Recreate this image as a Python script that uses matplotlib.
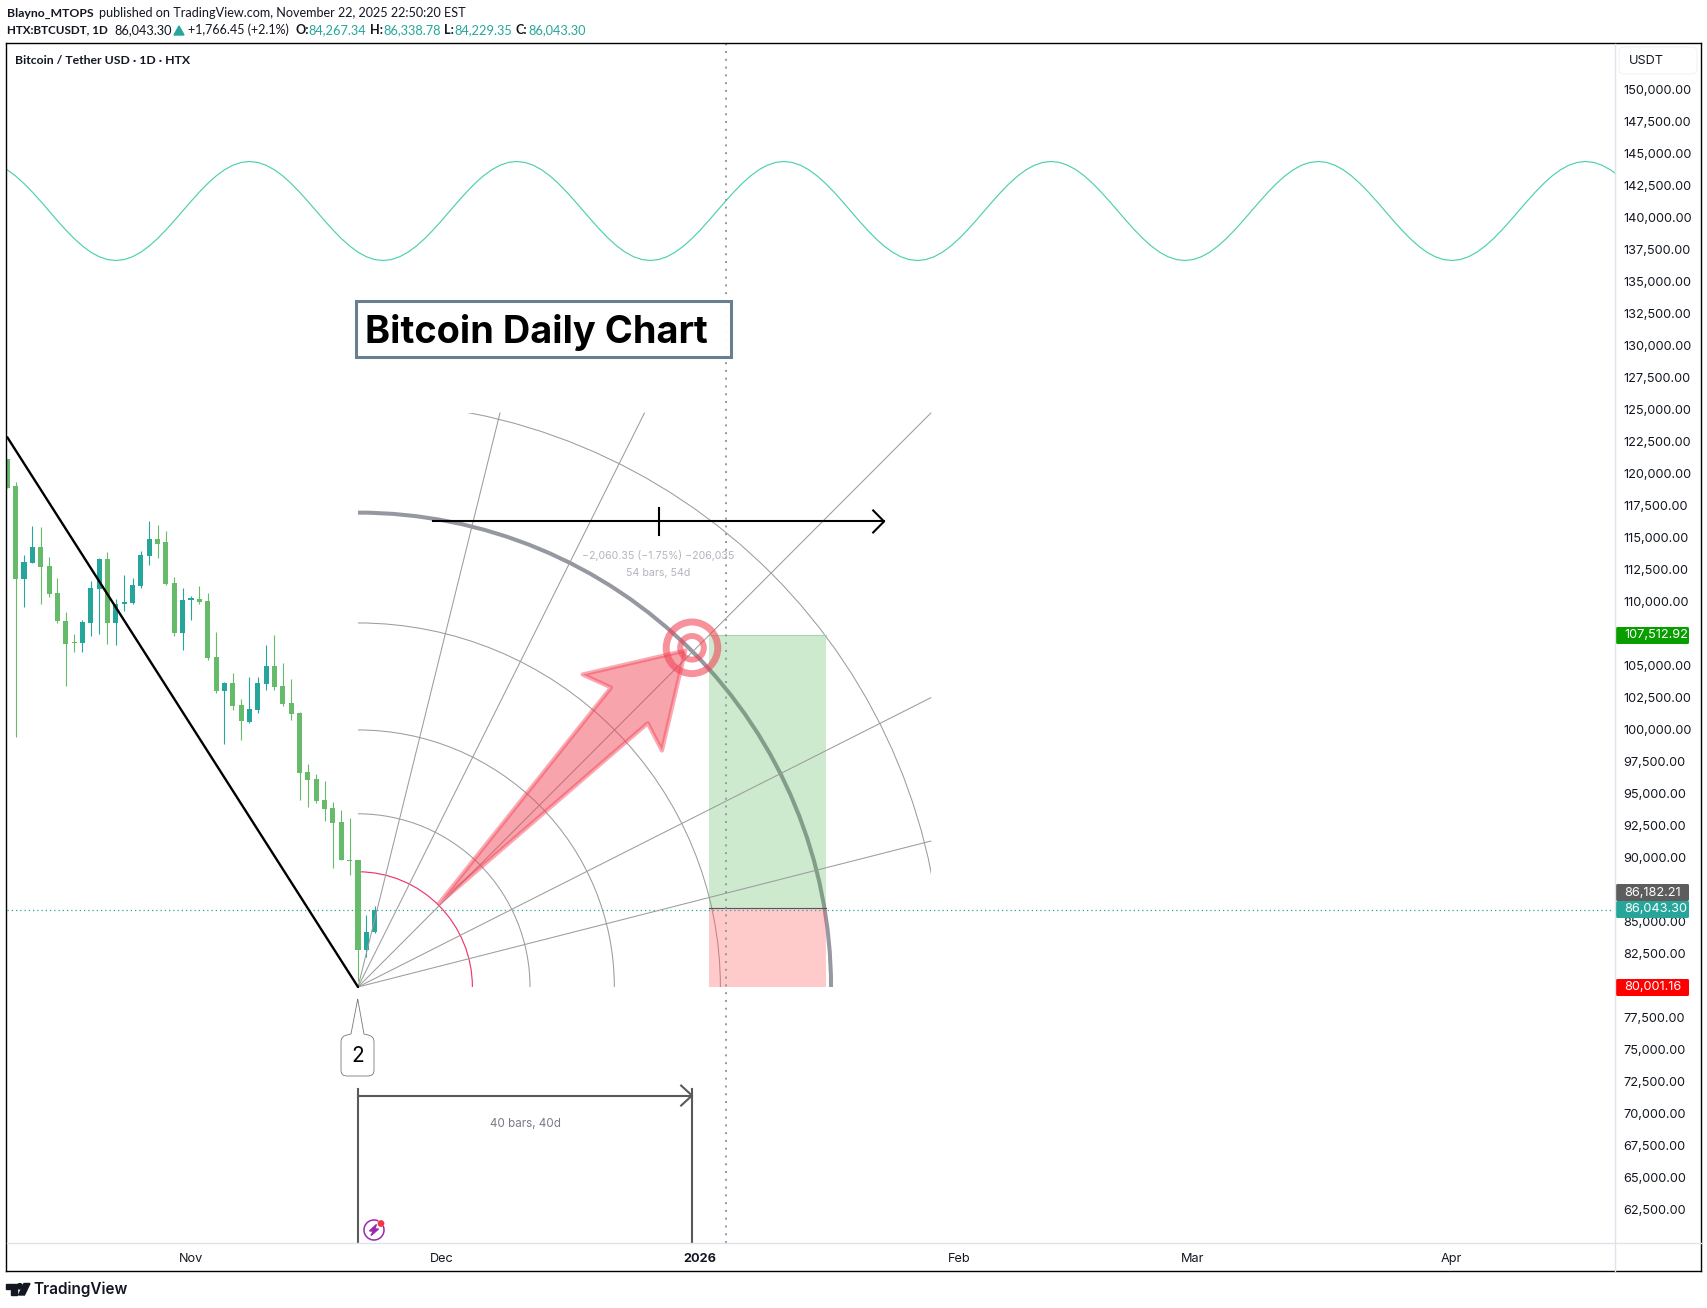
import matplotlib
matplotlib.use("Agg")
import matplotlib.pyplot as plt
from matplotlib.patches import Arc, Rectangle, Polygon, Ellipse, PathPatch, FancyBboxPatch
from matplotlib.path import Path
from matplotlib.lines import Line2D
from matplotlib.transforms import IdentityTransform, ScaledTranslation

W, H = 1708, 1308
UI = "Inter"
HEAD = "Lato"

# ---------- data ----------
bars = list(range(-42, 3))
opens = [121230,119120,111840,113140,114410,112910,110800,108630,106980,106900,108460,111120,113460,108400,109900,110020,111350,113690,115020,114730,111580,107680,110220,110340,110190,105800,103140,103780,102070,100740,101670,103690,105100,103540,102210,101430,96810,96260,94640,94010,92910,89960,89960,82910,84267]
highs = [121230,119470,113780,116030,115970,113600,111980,109320,107590,108690,111750,113540,114010,110310,112210,111980,114090,116430,116120,115650,112070,111200,110570,111290,110800,107760,103860,104560,102530,104180,104180,106750,107530,105340,104090,101520,97450,96670,96120,94470,93860,93230,89960,85660,86339]
lows = [119010,99560,109670,113140,109960,110450,108430,103540,106150,106200,107450,107560,106810,106750,109410,109900,111200,112940,113540,111430,107390,106350,108690,109960,105570,103000,99010,101670,99330,100600,101440,103230,103230,101980,100890,94640,94090,94410,93000,89330,89960,88720,80480,82360,84229]
closes = [119010,111840,113230,114410,112850,110740,108570,106810,106840,108540,111200,113460,108400,109960,110100,111430,113780,115020,114640,111520,107680,110250,110370,110100,105740,103140,103780,101980,100800,101750,103780,105100,103460,102130,101350,96750,96200,94560,93920,92850,89960,89880,82910,84330,86043]

sine_bars = list(range(-45, 152))
sine_prices = [
    144492,144418,144198,143840,143359,142773,142105,141379,140625,139871,139145,138477,137891,137410,137052,136832,136758,136832,137052,137410,137891,138477,139145,139871,140625,141379,142105,142773,143359,143840,144198,144418,
    144492,144418,144198,143840,143359,142773,142105,141379,140625,139871,139145,138477,137891,137410,137052,136832,136758,136832,137052,137410,137891,138477,139145,139871,140625,141379,142105,142773,143359,143840,144198,144418,
    144492,144418,144198,143840,143359,142773,142105,141379,140625,139871,139145,138477,137891,137410,137052,136832,136758,136832,137052,137410,137891,138477,139145,139871,140625,141379,142105,142773,143359,143840,144198,144418,
    144492,144418,144198,143840,143359,142773,142105,141379,140625,139871,139145,138477,137891,137410,137052,136832,136758,136832,137052,137410,137891,138477,139145,139871,140625,141379,142105,142773,143359,143840,144198,144418,
    144492,144418,144198,143840,143359,142773,142105,141379,140625,139871,139145,138477,137891,137410,137052,136832,136758,136832,137052,137410,137891,138477,139145,139871,140625,141379,142105,142773,143359,143840,144198,144418,
    144492,144418,144198,143840,143359,142773,142105,141379,140625,139871,139145,138477,137891,137410,137052,136832,136758,136832,137052,137410,137891,138477,139145,139871,140625,141379,142105,142773,143359,143840,144198,144418,
    144492,144418,144198,143840,143359,
]

anchor_bar, anchor_price = 0, 80001.16
last_close = 86043.30
entry_price = 86182.21
target_price = 107512.92
stop_price = 80001.16
position_bars = [42, 56]
crosshair_bar = 44.05
trend_start = (-42, 122950)
arc_radii_bars = [13.7, 20.6, 30.7, 43.4, 56.65]
arc_radii_prices = [9000, 13530, 20080, 28440, 37060]
outer_radius = (70.0, 45700)
box_size = (68.6, 44840)
ray_ends_bar = [17.0, 34.3, 68.6, 68.6, 68.6]
ray_ends_price = [124840, 124840, 124840, 102600, 91400]
ruler_bars = [9, 63]
ruler_price = 116370
range_bars = [0, 40]
range_price = 71520
arrow_bars = [9.7, 30.3, 26.9, 39.2, 36.4, 34.7]
arrow_prices = [86523, 103398, 104414, 106289, 98477, 100609]
target_center = (40, 106500)

y_ticks = [p for p in range(62500, 152500, 2500) if p not in (80000, 87500, 107500)]
x_tick_bars = [-20, 10, 41, 72, 100, 131]
x_tick_labels = ["Nov", "Dec", "2026", "Feb", "Mar", "Apr"]

UP, DOWN = "#26a69a", "#66bb6a"
THIN = "#9c9c9c"

# ---------- figure ----------
fig = plt.figure(figsize=(W / 100, H / 100), dpi=100, facecolor="white")
def fx(x): return x / W
def fy(y): return 1 - y / H
L, R, T, B = 7, 1615, 44, 1243
ax = fig.add_axes([fx(L), fy(B), (R - L) / W, (B - T) / H])
bar_px = 8.35
price_px = 0.0128
ax.set_xlim((L - 358) / bar_px, (R - 358) / bar_px)
ax.set_ylim(150000 - (B - 91.0) / price_px, 150000 - (T - 91.0) / price_px)

for s in ax.spines.values():
    s.set_visible(False)
ax.yaxis.tick_right()
ax.set_yticks(y_ticks)
ax.set_yticklabels([f"{p:,.2f}" for p in y_ticks], family=UI, fontsize=9.15, color="#131722")
ax.tick_params(axis="y", length=0, pad=5.7)
up_px = ScaledTranslation(0, 1.5 / 100, fig.dpi_scale_trans)
for t in ax.get_yticklabels():
    t.set_transform(t.get_transform() + up_px)
ax.set_xticks(x_tick_bars)
ax.set_xticklabels(x_tick_labels, family=UI, fontsize=9.15, color="#131722")
ax.tick_params(axis="x", length=0, pad=7.0)
for t, s in zip(ax.get_xticklabels(), x_tick_labels):
    if s == "2026":
        t.set_fontweight("bold")

for coords in [((6.5, 1701.5), (43, 43)), ((6.5, 1701.5), (1271, 1271)),
               ((6.5, 6.5), (43, 1271)), ((1701.5, 1701.5), (43, 1271))]:
    fig.add_artist(Line2D([fx(c) for c in coords[0]], [fy(c) for c in coords[1]], color="#000000", lw=1.0))
fig.add_artist(Line2D([fx(L), fx(1701)], [fy(1243.3)] * 2, color="#e0e3eb", lw=1.0))
fig.add_artist(Line2D([fx(1615.5)] * 2, [fy(44), fy(1271)], color="#e0e3eb", lw=1.0))

# candles
for b, o, h, l, c in zip(bars, opens, highs, lows, closes):
    col = UP if c >= o else DOWN
    ax.plot([b, b], [l, h], color=col, lw=0.8, zorder=3, solid_capstyle="butt")
    ax.add_patch(Rectangle((b - 0.3, min(o, c)), 0.6, max(abs(c - o), 60), color=col, lw=0, zorder=3))

# sine
ax.plot(sine_bars, sine_prices, color="#4dd0b0", lw=0.85, zorder=2)

# arcs
arc_cols = ["#f23668", THIN, THIN, THIN, "#9598a1"]
arc_lws = [0.85, 0.75, 0.75, 0.75, 2.9]
for rb, rp, col, lw in zip(arc_radii_bars, arc_radii_prices, arc_cols, arc_lws):
    ax.add_patch(Arc((anchor_bar, anchor_price), 2 * rb, 2 * rp, theta1=0, theta2=90,
                     color=col, lw=lw, zorder=1.5))
outer = Arc((anchor_bar, anchor_price), 2 * outer_radius[0], 2 * outer_radius[1], theta1=0, theta2=90,
            color=THIN, lw=0.75, zorder=1.5)
ax.add_patch(outer)
outer.set_clip_path(Rectangle((anchor_bar, anchor_price), box_size[0], box_size[1], transform=ax.transData))
for rb, rp in zip(ray_ends_bar, ray_ends_price):
    ax.plot([anchor_bar, rb], [anchor_price, rp], color=THIN, lw=0.75, zorder=3.5)

# position tool
ax.add_patch(Rectangle((position_bars[0], entry_price), position_bars[1] - position_bars[0],
                       target_price - entry_price, facecolor=(0.30, 0.69, 0.31, 0.28),
                       edgecolor="none", zorder=2))
ax.plot(position_bars, [target_price] * 2, color="#a5d6a7", lw=0.8, zorder=2)
ax.add_patch(Rectangle((position_bars[0], stop_price), position_bars[1] - position_bars[0],
                       entry_price - stop_price, facecolor=(1.0, 0.32, 0.32, 0.30),
                       edgecolor="none", zorder=2))
ax.plot(position_bars, [entry_price] * 2, color="#555555", lw=0.8, zorder=2.1)

# dotted guide lines
ax.axvline(crosshair_bar, color="#9598a1", lw=1.4, ls=(0, (1, 3)), zorder=2.5)
ax.plot([ax.get_xlim()[0], ax.get_xlim()[1] - 0.5], [last_close] * 2, color=UP, lw=0.9, ls=(0, (1, 2.4)), zorder=2.5)

# trend line
ax.plot([trend_start[0], anchor_bar], [trend_start[1], anchor_price], color="black", lw=1.7, zorder=4,
        solid_capstyle="round")

# ruler
ax.plot(ruler_bars, [ruler_price] * 2, color="black", lw=1.5, zorder=5)
mid = sum(ruler_bars) / 2
ax.plot([mid, mid], [ruler_price - 1040, ruler_price + 1040], color="black", lw=1.5, zorder=5)
ax.plot([ruler_bars[1] - 1.3, ruler_bars[1], ruler_bars[1] - 1.3],
        [ruler_price + 860, ruler_price, ruler_price - 860], color="black", lw=1.5, zorder=5)
ax.text(mid, ruler_price - 2620, "\u22122,060.35 (\u22121.75%) \u2212206,035", family=UI, fontsize=7.6,
        color="#b2b5be", ha="center", va="center", zorder=5)
ax.text(mid, ruler_price - 4030, "54 bars, 54d", family=UI, fontsize=7.6, color="#b2b5be",
        ha="center", va="center", zorder=5)

# date range
RC = "#5a5a5a"
ax.plot(range_bars, [range_price] * 2, color=RC, lw=1.5, zorder=5)
for b in range_bars:
    ax.plot([b, b], [ax.get_ylim()[0], range_price + 480], color=RC, lw=1.5, zorder=5)
ax.plot([range_bars[1] - 1.3, range_bars[1], range_bars[1] - 1.3],
        [range_price + 780, range_price, range_price - 780], color=RC, lw=1.5, zorder=5)
ax.text(sum(range_bars) / 2, range_price - 2230, "40 bars, 40d", family=UI, fontsize=8.4, color="#787b86",
        ha="center", va="center", zorder=5)

# big arrow
ax.add_patch(Polygon(list(zip(arrow_bars, arrow_prices)), closed=True,
                     facecolor=(0.95, 0.26, 0.33, 0.48), edgecolor=(0.96, 0.26, 0.33, 0.45),
                     lw=3.0, joinstyle="round", zorder=4.5))
for rpx, lw in [(25.8, 5.0), (11.8, 4.3)]:
    ax.add_patch(Ellipse(target_center, 2 * rpx / bar_px, 2 * rpx / price_px, fill=False,
                         edgecolor=(0.95, 0.26, 0.33, 0.58), lw=lw, zorder=4.6))

# title box
ax.add_patch(Rectangle((-0.2, 129240), 44.85, 4390, facecolor=(1, 1, 1, 0.95), edgecolor="#687f91", lw=2.2,
                       zorder=5.5))
ax.text(21.35, 131130, "Bitcoin Daily Chart", family=UI, fontweight="bold", fontsize=27.3, color="black",
        ha="center", va="center", zorder=6)

# callout (figure pixels)
P = [(357.7, 999), (364, 1034), (368, 1035), (374, 1036), (374, 1042), (374, 1070), (374, 1076), (368, 1076),
     (347, 1076), (341, 1076), (341, 1070), (341, 1042), (341, 1036), (347, 1035), (351, 1034), (357.7, 999)]
C = [Path.MOVETO, Path.LINETO, Path.LINETO, Path.CURVE3, Path.CURVE3, Path.LINETO, Path.CURVE3, Path.CURVE3,
     Path.LINETO, Path.CURVE3, Path.CURVE3, Path.LINETO, Path.CURVE3, Path.CURVE3, Path.LINETO, Path.LINETO]
fig.add_artist(PathPatch(Path([(fx(x), fy(y)) for x, y in P], C), facecolor="white", edgecolor="#777777",
                         lw=0.6, transform=fig.transFigure))
fig.text(fx(358), fy(1055.5), "2", family=UI, fontsize=15, color="black", ha="center", va="center")

# lightning icon
PUR = "#9c27b0"
fig.add_artist(Arc((fx(374), fy(1230)), 20 / W, 20 / H, theta1=70, theta2=30, color=PUR, lw=1.1,
                   transform=fig.transFigure))
fig.add_artist(Polygon([(fx(x), fy(y)) for x, y in [(376.5, 1224.5), (369.5, 1231), (373.5, 1231), (371, 1235.5),
                                                     (378.5, 1229), (374.5, 1229)]], closed=True, color=PUR,
                       transform=fig.transFigure))
fig.add_artist(Ellipse((fx(381), fy(1223.5)), 5.4 / W, 5.4 / H, color="#f23645", transform=fig.transFigure))

# rounded boxes in pixels
def rbox(x0, y0, x1, y1, r, face, edge="none", lw=0):
    fig.add_artist(FancyBboxPatch((x0, H - y1), x1 - x0, y1 - y0, boxstyle=f"round,pad=0,rounding_size={r}",
                                  facecolor=face, edgecolor=edge, lw=lw, transform=IdentityTransform()))

# price chips
chips = [("107,512.92", 635.5, "#089e00"), ("86,182.21", 892.5, "#5d5d5d"),
         ("86,043.30", 909.5, "#26a69a"), ("80,001.16", 987.5, "#ff0000")]
for txt, yc, col in chips:
    rbox(1616, yc - 8.5, 1689, yc + 8.5, 1.5, col)
    fig.text(fx(1624), fy(yc), txt, family=UI, fontsize=9.15, color="white", ha="left", va="center")

# USDT box
rbox(1619, 47, 1697, 74, 5, "white", "#f0f3fa", 0.8)
fig.text(fx(1629), fy(60.5), "USDT", family=UI, fontsize=9.15, color="#131722", ha="left", va="center")

# header
DARK, TEAL = "#131722", "#26a69a"
def head(x, y, s, col=DARK, bold=False, size=9.1):
    fig.text(fx(x), fy(y), s, family=HEAD, fontsize=size, color=col, ha="left", va="center",
             fontweight="bold" if bold else "normal")
head(6.7, 13, "Blayno_MTOPS", bold=True, size=8.85)
head(98.8, 13, "published on TradingView.com, November 22, 2025 22:50:20 EST")
head(6.7, 30, "HTX:BTCUSDT, 1D", bold=True, size=8.4)
head(114, 30, "86,043.30", size=9.2)
fig.add_artist(Polygon([(fx(174), fy(35)), (fx(184), fy(35)), (fx(179), fy(26))], closed=True, color=TEAL,
                       transform=fig.transFigure))
head(188, 30, "+1,766.45 (+2.1%)", size=9.0)
for x1, lab, x2, val in [(295.7, "O:", 308.5, "84,267.34"), (370, "H:", 383, "86,338.78"),
                         (444, "L:", 454.7, "84,229.35"), (516, "C:", 528, "86,043.30")]:
    head(x1, 30, lab, bold=True)
    head(x2, 30, val, col=TEAL, size=9.2)
fig.text(fx(15), fy(60.5), "Bitcoin / Tether USD \u00b7 1D \u00b7 HTX", family=HEAD, fontweight="bold", fontsize=8.85,
         color=DARK, ha="left", va="center")

# logo
LOGO = "#131722"
fig.add_artist(Polygon([(fx(x), fy(y)) for x, y in [(6, 1283.5), (16.5, 1283.5), (16.5, 1295), (11, 1295), (11, 1289), (6, 1289)]],
                       closed=True, color=LOGO, transform=fig.transFigure))
fig.add_artist(Ellipse((fx(19.8), fy(1286.3)), 5.4 / W, 5.4 / H, color=LOGO, transform=fig.transFigure))
fig.add_artist(Polygon([(fx(x), fy(y)) for x, y in [(24, 1283.5), (30, 1283.5), (24.5, 1295), (18.5, 1295)]],
                       closed=True, color=LOGO, transform=fig.transFigure))
fig.text(fx(33), fy(1289.5), "TradingView", family=UI, fontweight="semibold", fontsize=11, color=LOGO,
         ha="left", va="center")

fig.savefig("out.png", dpi=100)
